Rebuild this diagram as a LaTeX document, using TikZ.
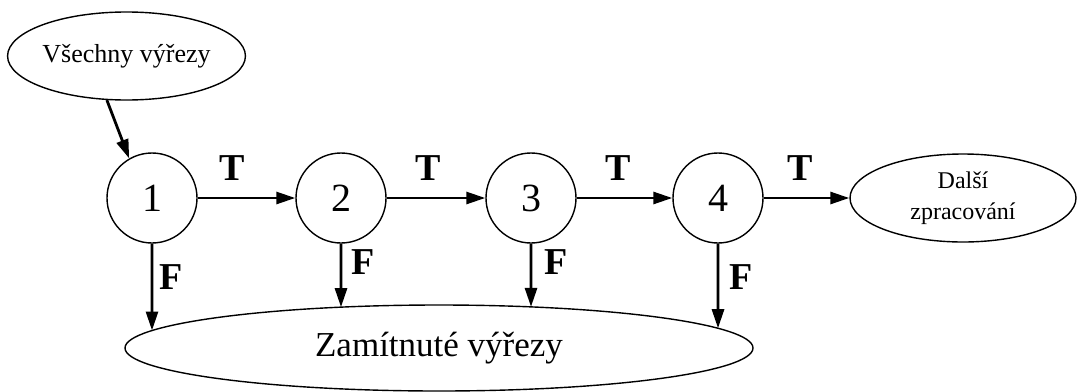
\documentclass[tikz,border=0pt]{standalone}
\usepackage{fontspec}
\setmainfont{Liberation Serif}
\usetikzlibrary{shapes.geometric,arrows.meta,intersections}
\begin{document}
\begin{tikzpicture}[x=1pt,y=-1pt,
  stage/.style={circle,draw,line width=1.4pt,minimum size=90pt,inner sep=0pt,font=\fontsize{40}{44}\selectfont},
  oval/.style={ellipse,draw,line width=1.4pt,inner sep=0pt},
  flow/.style={line width=2.8pt,-{Triangle[length=19pt,width=12pt]}},
  lab/.style={font=\bfseries\fontsize{38}{40}\selectfont,inner sep=0pt}]
\useasboundingbox (0,0) rectangle (1078,391);
\node[oval,minimum width=237pt,minimum height=88pt,font=\fontsize{26}{30}\selectfont] (all) at (126.5,56) {Všechny výřezy};
\node[stage] (c1) at (152,198) {1};
\node[stage] (c2) at (341,198) {2};
\node[stage] (c3) at (531,198) {3};
\node[stage] (c4) at (718,198) {4};
\node[oval,minimum width=226pt,minimum height=88pt,align=center,font=\fontsize{24}{31}\selectfont] (next) at (963,198) {Další\\zpracování};
\node[oval,minimum width=628pt,minimum height=86pt,font=\fontsize{35}{40}\selectfont] (rej) at (439,348) {\raisebox{4pt}{Zamítnuté výřezy}};
\path[name path=rejpath] (439,348) ellipse (314 and 43);
\path[name path=va] (c1.south) -- ++(0,200);
\path[name path=vb] (c2.south) -- ++(0,200);
\path[name path=vc] (c3.south) -- ++(0,200);
\path[name path=vd] (c4.south) -- ++(0,200);
\path[name intersections={of=va and rejpath,sort by=va,name=ia}];
\path[name intersections={of=vb and rejpath,sort by=vb,name=ib}];
\path[name intersections={of=vc and rejpath,sort by=vc,name=ic}];
\path[name intersections={of=vd and rejpath,sort by=vd,name=id}];
\draw[flow] (all.-114) -- (c1.120);
\draw[flow] (c1) -- (c2);
\draw[flow] (c2) -- (c3);
\draw[flow] (c3) -- (c4);
\draw[flow] (c4) -- (next);
\draw[flow] (c1.south) -- (ia-1);
\draw[flow] (c2.south) -- (ib-1);
\draw[flow] (c3.south) -- (ic-1);
\draw[flow] (c4.south) -- (id-1);
\node[lab] (t1) at (232,168) {T};
\node[lab] (t2) at (428,168) {T};
\node[lab] (t3) at (618,168) {T};
\node[lab] (t4) at (800,168) {T};
\node[lab] (f1) at (171,277) {F};
\node[lab] (f2) at (363,262) {F};
\node[lab] (f3) at (556,262) {F};
\node[lab] (f4) at (741,277) {F};
\end{tikzpicture}
\end{document}
